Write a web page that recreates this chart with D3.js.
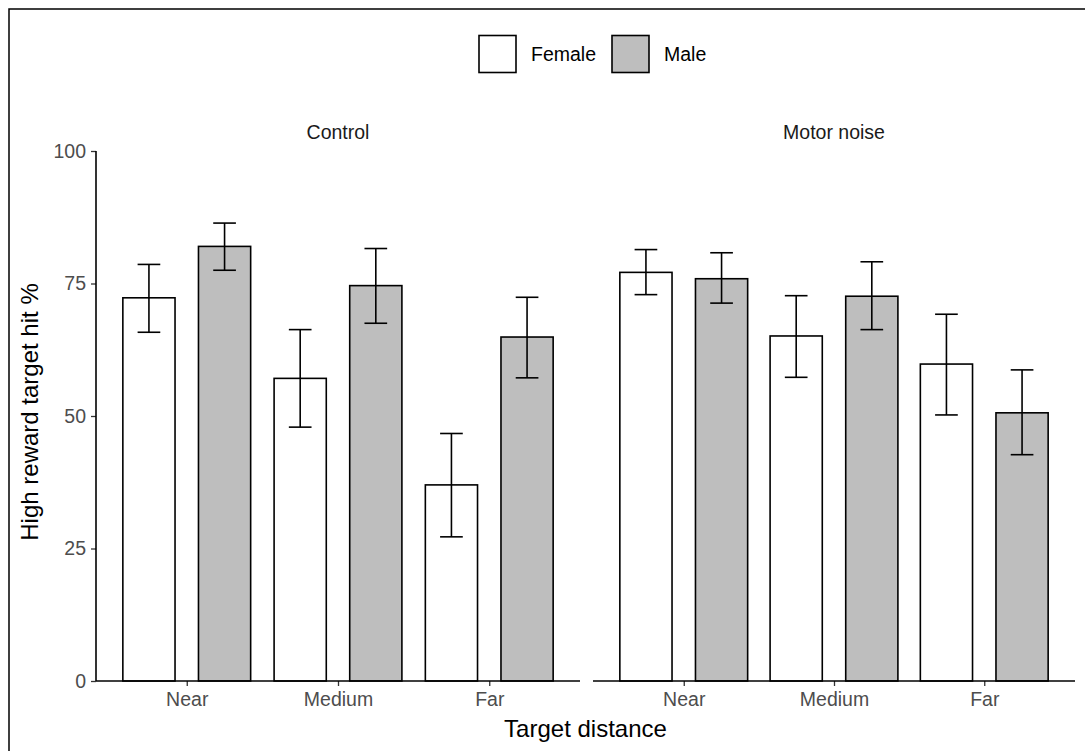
<!DOCTYPE html>
<html>
<head>
<meta charset="utf-8">
<script src="https://cdn.jsdelivr.net/npm/d3@7"></script>
<style>
  body { margin: 0; background: #fff; }
  svg { display: block; font-family: "Liberation Sans", Arial, sans-serif; }
</style>
</head>
<body>
<svg id="chart" width="1085" height="751"></svg>
<script>
const panels = ["Control", "Motor noise"];
const distances = ["Near", "Medium", "Far"];
const sexes = ["Female", "Male"];
const sexFill = ["#ffffff", "#bebebe"];
const yTicks = [0, 25, 50, 75, 100];

// mean values per panel / sex, by distance
const controlFemale = [72.3, 57.1, 37.0];
const controlMale = [82.0, 74.6, 64.9];
const motorFemale = [77.1, 65.1, 59.8];
const motorMale = [75.9, 72.6, 50.6];
// error bar bounds
const controlFemaleLow = [65.8, 47.9, 27.2];
const controlFemaleHigh = [78.6, 66.3, 46.7];
const controlMaleLow = [77.5, 67.5, 57.2];
const controlMaleHigh = [86.4, 81.6, 72.4];
const motorFemaleLow = [72.9, 57.3, 50.2];
const motorFemaleHigh = [81.4, 72.7, 69.2];
const motorMaleLow = [71.3, 66.3, 42.7];
const motorMaleHigh = [80.8, 79.1, 58.7];

const data = [];
const sets = [
  [0, 0, controlFemale, controlFemaleLow, controlFemaleHigh],
  [0, 1, controlMale, controlMaleLow, controlMaleHigh],
  [1, 0, motorFemale, motorFemaleLow, motorFemaleHigh],
  [1, 1, motorMale, motorMaleLow, motorMaleHigh]
];
sets.forEach(([p, s, v, lo, hi]) => {
  distances.forEach((d, i) => data.push({panel: panels[p], sex: sexes[s], dist: d, v: v[i], lo: lo[i], hi: hi[i]}));
});

const svg = d3.select("#chart");
const FS = 19.5;

// outer border
svg.append("rect").attr("x", 9).attr("y", 9).attr("width", 1100).attr("height", 800)
  .attr("fill", "none").attr("stroke", "#000").attr("stroke-width", 1.5);

const y = d3.scaleLinear().domain([0, 100]).range([681, 151]);
const panelX = [[96, 580], [593, 1075]];

const unitW = (580 - 96) / 3.2;
const dodge = { Female: -0.25 * unitW, Male: 0.25 * unitW };
const barW = 0.345 * unitW;

panels.forEach((p, pi) => {
  const [x0, x1] = panelX[pi];
  const x = d3.scalePoint().domain(distances).range([x0 + 0.6 * unitW, x1 - 0.6 * unitW]);
  const g = svg.append("g");

  const pd = data.filter(d => d.panel === p);
  g.selectAll("rect.bar").data(pd).join("rect")
    .attr("class", "bar")
    .attr("x", d => x(d.dist) + dodge[d.sex] - barW / 2)
    .attr("width", barW)
    .attr("y", d => y(d.v))
    .attr("height", d => y(0) - y(d.v))
    .attr("fill", d => sexFill[sexes.indexOf(d.sex)])
    .attr("stroke", "#000").attr("stroke-width", 1.6);

  const capW = 0.15 * unitW;
  const eb = g.selectAll("g.eb").data(pd).join("g").attr("class", "eb")
    .attr("stroke", "#000").attr("stroke-width", 1.6);
  eb.append("line").attr("x1", d => x(d.dist) + dodge[d.sex]).attr("x2", d => x(d.dist) + dodge[d.sex])
    .attr("y1", d => y(d.lo)).attr("y2", d => y(d.hi));
  eb.append("line").attr("x1", d => x(d.dist) + dodge[d.sex] - capW / 2).attr("x2", d => x(d.dist) + dodge[d.sex] + capW / 2)
    .attr("y1", d => y(d.lo)).attr("y2", d => y(d.lo));
  eb.append("line").attr("x1", d => x(d.dist) + dodge[d.sex] - capW / 2).attr("x2", d => x(d.dist) + dodge[d.sex] + capW / 2)
    .attr("y1", d => y(d.hi)).attr("y2", d => y(d.hi));

  // x axis
  const xa = g.append("g").attr("transform", `translate(0,${y(0)})`)
    .call(d3.axisBottom(x).tickSize(5).tickPadding(6).tickSizeOuter(0));
  xa.attr("font-size", FS).attr("font-family", "Liberation Sans, Arial, sans-serif");
  xa.select(".domain").remove();
  xa.append("line").attr("x1", x0).attr("x2", x1).attr("stroke", "#000").attr("stroke-width", 1.6);
  xa.selectAll(".tick line").attr("stroke", "#333").attr("stroke-width", 1.3);
  xa.selectAll(".tick text").attr("fill", "#4d4d4d");

  // strip label
  svg.append("text").attr("x", (x0 + x1) / 2).attr("y", 139).attr("text-anchor", "middle")
    .attr("font-size", FS).attr("fill", "#1a1a1a").text(p);

  if (pi === 0) {
    const ya = g.append("g").attr("transform", `translate(${x0},0)`)
      .call(d3.axisLeft(y).tickValues(yTicks).tickSize(5).tickPadding(5).tickSizeOuter(0));
    ya.attr("font-size", FS).attr("font-family", "Liberation Sans, Arial, sans-serif");
    ya.select(".domain").remove();
    ya.append("line").attr("y1", y(0)).attr("y2", y(100)).attr("stroke", "#000").attr("stroke-width", 1.6);
    ya.selectAll(".tick line").attr("stroke", "#333").attr("stroke-width", 1.3);
    ya.selectAll(".tick text").attr("fill", "#4d4d4d");
  }
});

// axis titles
svg.append("text").attr("x", 585.5).attr("y", 737).attr("text-anchor", "middle")
  .attr("font-size", 24).attr("fill", "#000").text("Target distance");
svg.append("text").attr("transform", "translate(38,412) rotate(-90)").attr("text-anchor", "middle")
  .attr("font-size", 24).attr("fill", "#000").text("High reward target hit %");

// legend
const legend = svg.append("g");
const legX = [479, 612];
sexes.forEach((s, i) => {
  legend.append("rect").attr("x", legX[i]).attr("y", 35.5).attr("width", 37).attr("height", 37)
    .attr("fill", sexFill[i]).attr("stroke", "#000").attr("stroke-width", 1.6);
  legend.append("text").attr("x", legX[i] + 52).attr("y", 61).attr("font-size", FS)
    .attr("fill", "#000").text(s);
});
</script>
</body>
</html>
